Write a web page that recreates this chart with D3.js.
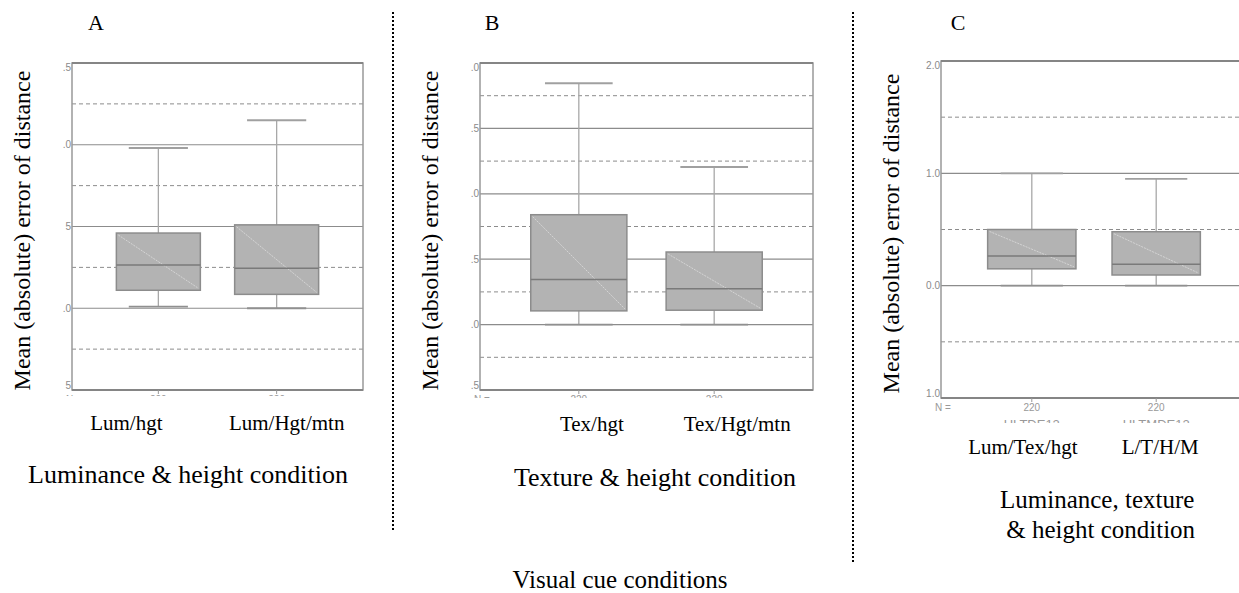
<!DOCTYPE html>
<html>
<head>
<meta charset="utf-8">
<script src="https://cdn.jsdelivr.net/npm/d3@7"></script>
<style>
  body { margin: 0; background: #fff; }
  svg { display: block; }
</style>
</head>
<body>
<div id="chart"></div>
<script>
const width = 1239;
const height = 593;

// panel A : luminance & height
const catsA = ["Lum/hgt", "Lum/Hgt/mtn"];
const codesA = [];
const nA = [220, 220];
const lowA = [1.01, 1.0];
const q1A = [1.11, 1.085];
const medA = [1.265, 1.245];
const q3A = [1.46, 1.51];
const highA = [1.98, 2.15];
const ticksA = [0.5, 1.0, 1.5, 2.0, 2.5];
const tickTextA = ["5", ".0", "5", ".0", ".5"];

// panel B : texture & height
const catsB = ["Tex/hgt", "Tex/Hgt/mtn"];
const codesB = [];
const nB = [220, 220];
const lowB = [0.0, 0.0];
const q1B = [0.105, 0.11];
const medB = [0.345, 0.275];
const q3B = [0.84, 0.555];
const highB = [1.845, 1.205];
const ticksB = [-0.5, 0.0, 0.5, 1.0, 1.5, 2.0];
const tickTextB = [".5", ".0", ".5", ".0", ".5", ".0"];

// panel C : luminance, texture & height
const catsC = ["Lum/Tex/hgt", "L/T/H/M"];
const codesC = ["ULTDE12", "ULTMDE12"];
const nC = [220, 220];
const lowC = [0.0, 0.0];
const q1C = [0.15, 0.095];
const medC = [0.265, 0.19];
const q3C = [0.5, 0.48];
const highC = [1.0, 0.95];
const ticksC = [-1.0, 0.0, 1.0, 2.0];
const tickTextC = ["1.0", "0.0", "1.0", "2.0"];

const serif = "'Liberation Serif', 'Times New Roman', serif";
const sans = "'Liberation Sans', Arial, sans-serif";
const grid = "#8c8c8c";

var svg = d3.select("#chart").append("svg")
  .attr("width", width)
  .attr("height", height);

var defs = svg.append("defs");

var panels = [
  { id: "A", cats: catsA, codes: codesA, n: nA, low: lowA, q1: q1A, med: medA, q3: q3A, high: highA,
    ticks: ticksA, tickText: tickTextA, step: 0.5,
    left: 72, right: 363, top: 63, bottom: 390, nClip: 6, letterX: 96,
    labelShift: [-32, 10], labelY: 430,
    title: ["Luminance & height condition"], titleX: 188, titleY: 483, titleAnchor: "middle" },
  { id: "B", cats: catsB, codes: codesB, n: nB, low: lowB, q1: q1B, med: medB, q3: q3B, high: highB,
    ticks: ticksB, tickText: tickTextB, step: 0.5,
    left: 480, right: 813, top: 63, bottom: 390, nClip: 8, letterX: 492,
    labelShift: [13, 23], labelY: 431,
    title: ["Texture & height condition"], titleX: 655, titleY: 486, titleAnchor: "middle" },
  { id: "C", cats: catsC, codes: codesC, n: nC, low: lowC, q1: q1C, med: medC, q3: q3C, high: highC,
    ticks: ticksC, tickText: tickTextC, step: 1.0,
    left: 941, right: 1247, top: 61, bottom: 398, nClip: 25, letterX: 958,
    labelShift: [-9, 4], labelY: 454,
    title: ["Luminance, texture", " & height condition"], titleX: 1000, titleY: 508, titleAnchor: "start" }
];

panels.forEach(function(p) {

  var y = d3.scaleLinear()
    .domain(d3.extent(p.ticks))
    .range([p.bottom, p.top]);

  var x = d3.scalePoint()
    .domain(p.cats)
    .range([p.left, p.right])
    .padding(0.73);

  var g = svg.append("g");

  // dashed half-step lines
  var halfs = p.ticks.slice(0, -1).map(function(t) { return t + p.step / 2; });
  g.selectAll(".dash").data(halfs).enter().append("line")
    .attr("x1", p.left).attr("x2", p.right)
    .attr("y1", function(d) { return y(d); })
    .attr("y2", function(d) { return y(d); })
    .attr("stroke", grid).attr("stroke-width", 1)
    .attr("stroke-dasharray", "4,3");

  // solid lines
  g.selectAll(".solid").data(p.ticks).enter().append("line")
    .attr("x1", p.left).attr("x2", p.right)
    .attr("y1", function(d) { return y(d); })
    .attr("y2", function(d) { return y(d); })
    .attr("stroke", grid).attr("stroke-width", 1.2);

  // frame
  g.append("rect")
    .attr("x", p.left).attr("y", p.top)
    .attr("width", p.right - p.left).attr("height", p.bottom - p.top)
    .attr("fill", "none").attr("stroke", "#999").attr("stroke-width", 1.5);
  g.append("line")
    .attr("x1", p.left).attr("x2", p.right)
    .attr("y1", p.top).attr("y2", p.top)
    .attr("stroke", "#858585").attr("stroke-width", 2);
  g.append("line")
    .attr("x1", p.left).attr("x2", p.right)
    .attr("y1", p.bottom).attr("y2", p.bottom)
    .attr("stroke", "#858585").attr("stroke-width", 2);

  // y tick labels (clipped in the original figure)
  g.selectAll(".ytxt").data(p.ticks).enter().append("text")
    .attr("x", p.left - 1)
    .attr("y", function(d) { return y(d); })
    .attr("dy", function(d, i) { return i === 0 ? "-0.1em" : (i === p.ticks.length - 1 ? "0.75em" : "0.35em"); })
    .attr("text-anchor", "end")
    .attr("font-family", sans).attr("font-size", 10).attr("fill", "#8a8a8a")
    .text(function(d, i) { return p.tickText[i]; });

  // boxes
  var data = p.cats.map(function(c, i) {
    return { cat: c, lo: p.low[i], q1: p.q1[i], med: p.med[i], q3: p.q3[i], hi: p.high[i] };
  });
  var step = x.step();
  var bw = step * 0.71;
  var cw = step * 0.5;

  var box = g.selectAll(".box").data(data).enter().append("g");

  box.append("line")
    .attr("x1", function(d) { return x(d.cat); })
    .attr("x2", function(d) { return x(d.cat); })
    .attr("y1", function(d) { return y(d.lo); })
    .attr("y2", function(d) { return y(d.hi); })
    .attr("stroke", "#a8a8a8").attr("stroke-width", 1.3);

  box.append("line")
    .attr("x1", function(d) { return x(d.cat) - cw / 2; })
    .attr("x2", function(d) { return x(d.cat) + cw / 2; })
    .attr("y1", function(d) { return y(d.hi); })
    .attr("y2", function(d) { return y(d.hi); })
    .attr("stroke", "#a0a0a0").attr("stroke-width", 1.8);

  box.append("line")
    .attr("x1", function(d) { return x(d.cat) - cw / 2; })
    .attr("x2", function(d) { return x(d.cat) + cw / 2; })
    .attr("y1", function(d) { return y(d.lo); })
    .attr("y2", function(d) { return y(d.lo); })
    .attr("stroke", "#909090").attr("stroke-width", 1.8);

  box.append("rect")
    .attr("x", function(d) { return x(d.cat) - bw / 2; })
    .attr("y", function(d) { return y(d.q3); })
    .attr("width", bw)
    .attr("height", function(d) { return y(d.q1) - y(d.q3); })
    .attr("fill", "#b3b3b3").attr("stroke", "#8c8c8c").attr("stroke-width", 1.5);

  box.append("line")
    .attr("x1", function(d) { return x(d.cat) - bw / 2 + 2; })
    .attr("x2", function(d) { return x(d.cat) + bw / 2 - 2; })
    .attr("y1", function(d) { return y(d.q3) + 2; })
    .attr("y2", function(d) { return y(d.q1) - 2; })
    .attr("stroke", "#dcdcdc").attr("stroke-width", 0.8)
    .attr("stroke-dasharray", "2,1");

  box.append("line")
    .attr("x1", function(d) { return x(d.cat) - bw / 2; })
    .attr("x2", function(d) { return x(d.cat) + bw / 2; })
    .attr("y1", function(d) { return y(d.med); })
    .attr("y2", function(d) { return y(d.med); })
    .attr("stroke", "#7a7a7a").attr("stroke-width", 1.5);

  // N row and variable codes, cut off like the source figure
  defs.append("clipPath").attr("id", "clip" + p.id)
    .append("rect")
    .attr("x", p.left - 20).attr("y", p.bottom)
    .attr("width", p.right - p.left + 40).attr("height", p.nClip);
  var bot = g.append("g").attr("clip-path", "url(#clip" + p.id + ")");

  bot.selectAll(".tk").data(p.cats).enter().append("line")
    .attr("x1", function(d) { return x(d); })
    .attr("x2", function(d) { return x(d); })
    .attr("y1", p.bottom).attr("y2", p.bottom + 4)
    .attr("stroke", "#999");
  bot.append("text")
    .attr("x", p.left - 6).attr("y", p.bottom + 13)
    .attr("font-family", sans).attr("font-size", 10).attr("fill", "#999")
    .text("N =");
  bot.selectAll(".n").data(p.n).enter().append("text")
    .attr("x", function(d, i) { return x(p.cats[i]); })
    .attr("y", p.bottom + 13)
    .attr("text-anchor", "middle")
    .attr("font-family", sans).attr("font-size", 10).attr("fill", "#999")
    .text(function(d) { return d; });
  bot.selectAll(".code").data(p.codes).enter().append("text")
    .attr("x", function(d, i) { return x(p.cats[i]); })
    .attr("y", p.bottom + 31)
    .attr("text-anchor", "middle")
    .attr("font-family", sans).attr("font-size", 13).attr("fill", "#999")
    .text(function(d) { return d; });

  // category labels
  g.selectAll(".cat").data(p.cats).enter().append("text")
    .attr("x", function(d, i) { return x(d) + p.labelShift[i]; })
    .attr("y", p.labelY)
    .attr("text-anchor", "middle")
    .attr("font-family", serif).attr("font-size", 21)
    .text(function(d) { return d; });

  // y axis title
  g.append("text")
    .attr("transform", "translate(" + (p.left - 42) + "," + ((p.top + p.bottom) / 2 + 4) + ") rotate(-90)")
    .attr("text-anchor", "middle")
    .attr("font-family", serif).attr("font-size", 24)
    .text("Mean (absolute) error of distance");

  // panel letter
  g.append("text")
    .attr("x", p.letterX).attr("y", 30)
    .attr("text-anchor", "middle")
    .attr("font-family", serif).attr("font-size", 22)
    .text(p.id);

  // condition title
  g.selectAll(".ttl").data(p.title).enter().append("text")
    .attr("x", p.titleX)
    .attr("y", function(d, i) { return p.titleY + i * 30; })
    .attr("text-anchor", p.titleAnchor)
    .attr("xml:space", "preserve")
    .style("white-space", "pre")
    .attr("font-family", serif).attr("font-size", p.id === "C" ? 25 : 26)
    .text(function(d) { return d; });
});

// dotted separators
svg.append("line")
  .attr("x1", 393).attr("x2", 393).attr("y1", 12).attr("y2", 532)
  .attr("stroke", "#000").attr("stroke-width", 2).attr("stroke-dasharray", "2,2");
svg.append("line")
  .attr("x1", 853).attr("x2", 853).attr("y1", 12).attr("y2", 562)
  .attr("stroke", "#000").attr("stroke-width", 2).attr("stroke-dasharray", "2,2");

svg.append("text")
  .attr("x", 620).attr("y", 588)
  .attr("text-anchor", "middle")
  .attr("font-family", serif).attr("font-size", 25)
  .text("Visual cue conditions");
</script>
</body>
</html>
